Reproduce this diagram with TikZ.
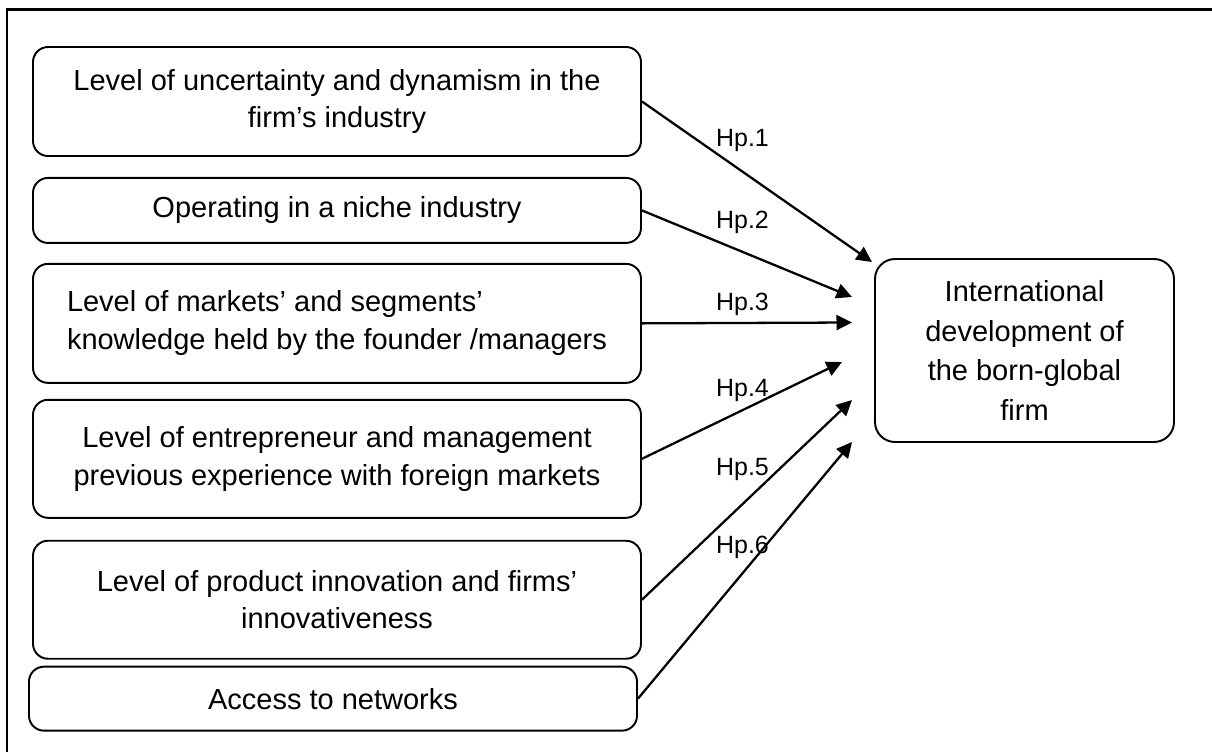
\documentclass[tikz,border=0pt]{standalone}
\usepackage{fontspec}
\setmainfont{Liberation Sans}
\usetikzlibrary{arrows.meta, positioning}
\tikzstyle{factor}=[rectangle, rounded corners=0.3cm, draw, line width=1.1pt, minimum width=12.16cm, align=center, font=\fontsize{16.5}{21.5}\selectfont]
\tikzstyle{outcome}=[rectangle, rounded corners=0.4cm, draw, line width=1.1pt, minimum width=5.98cm, minimum height=3.66cm, align=center, font=\fontsize{16.5}{22.5}\selectfont]
\tikzstyle{hyp}=[anchor=base west, inner sep=0pt, font=\fontsize{14.2}{17}\selectfont]

\begin{document}
\begin{tikzpicture}[node distance=0.40cm, >={Triangle[length=0.31cm, width=0.3cm]}, line width=1.3pt]
  \useasboundingbox (0,0) rectangle (24.24,-15.04);
  % frame (only top and left edge on the page)
  \draw (0.134,-15.3) -- (0.134,-0.19) -- (24.5,-0.19);

  % the six factors
  \node[factor, minimum height=2.18cm] (f1) at (6.74,-2.03) {Level of uncertainty and dynamism in the\\firm's industry};
  \node[factor, minimum height=1.30cm] (f2) [below=of f1] {Operating in a niche industry};
  \node[factor, minimum height=2.38cm, align=left] (f3) [below=0.38cm of f2] {Level of markets' and segments'\\knowledge held by the founder /managers};
  \node[factor, minimum height=2.36cm] (f4) [below=0.30cm of f3] {Level of entrepreneur and management\\previous experience with foreign markets};
  \node[factor, minimum height=2.36cm] (f5) [below=0.42cm of f4] {Level of product innovation and firms'\\innovativeness};
  \node[factor, minimum height=1.28cm] (f6) [below=0.12cm of f5, xshift=-0.08cm] {Access to networks};

  % outcome
  \node[outcome] (ibg) at (20.49,-7.01) {International\\development of\\the born-global\\firm};

  % arrow ends in front of the outcome box
  \coordinate (e1) at (17.44,-5.24);
  \coordinate (e2) at (17.04,-5.94);
  \coordinate (e3) at (17.04,-6.45);
  \coordinate (e4) at (16.84,-7.24);
  \coordinate (e5) at (17.04,-8.00);
  \coordinate (e6) at (17.04,-8.84);

  \draw[->] (f1.east) -- (e1);
  \draw[->] (f2.east) -- (e2);
  \draw[->] (f3.east) -- (e3);
  \draw[->] (f4.east) -- (e4);
  \draw[->] (f5.east) -- (e5);
  \draw[->] (f6.east) -- (e6);

  % hypotheses
  \node[hyp] (h1) at (14.30,-2.92) {Hp.1};
  \node[hyp] (h2) at (14.30,-4.56) {Hp.2};
  \node[hyp] (h3) at (14.30,-6.20) {Hp.3};
  \node[hyp] (h4) at (14.30,-7.92) {Hp.4};
  \node[hyp] (h5) at (14.30,-9.50) {Hp.5};
  \node[hyp] (h6) at (14.30,-11.06) {Hp.6};
\end{tikzpicture}
\end{document}
